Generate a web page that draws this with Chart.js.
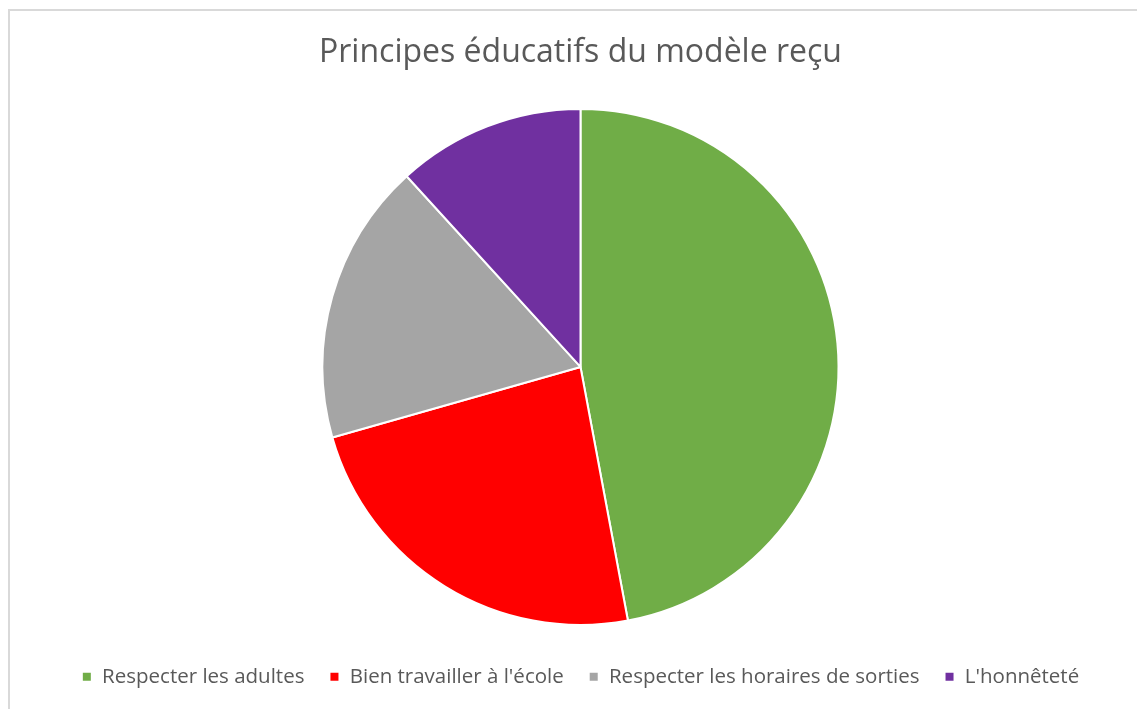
<!DOCTYPE html>
<html lang="fr">
<head>
    <meta charset="UTF-8">
    <title>Principes éducatifs du modèle reçu</title>
    <script src="https://cdn.jsdelivr.net/npm/chart.js"></script>
    <style>
        html, body {
            margin: 0;
            padding: 0;
            background: #ffffff;
            overflow: hidden;
        }

        /* light frame around the chart, only top and left edges are visible */
        .frame {
            position: absolute;
            left: 8px;
            top: 9px;
            width: 1200px;
            height: 800px;
            border: 2px solid #d9d9d9;
        }

        .chart-container {
            position: absolute;
            left: 0;
            top: 0;
            width: 1137px;
            height: 709px;
        }
    </style>
</head>
<body>
    <div class="frame"></div>
    <div class="chart-container">
        <canvas id="pieChart"></canvas>
    </div>

    <script>
        // chart data
        const categories = [
            'Respecter les adultes',
            'Bien travailler à l\'école',
            'Respecter les horaires de sorties',
            'L\'honnêteté'
        ];
        const values = [40, 20, 15, 10];
        const sliceColors = ['#70ad47', '#ff0000', '#a5a5a5', '#7030a0'];

        const textColor = '#595959';
        const fontFamily = '"Open Sans", "Noto Sans", sans-serif';

        new Chart(document.getElementById('pieChart'), {
            type: 'pie',
            data: {
                labels: categories,
                datasets: [{
                    data: values,
                    backgroundColor: sliceColors,
                    borderColor: '#ffffff',
                    borderWidth: 2,
                    hoverOffset: 0
                }]
            },
            options: {
                responsive: true,
                maintainAspectRatio: false,
                animation: false,
                radius: 258,
                layout: {
                    padding: { left: 24, right: 0, top: 0, bottom: 12 }
                },
                plugins: {
                    title: {
                        display: true,
                        text: 'Principes éducatifs du modèle reçu',
                        color: textColor,
                        font: { family: fontFamily, size: 32, weight: 'normal' },
                        padding: { top: 34, bottom: 20 }
                    },
                    legend: {
                        position: 'bottom',
                        labels: {
                            color: textColor,
                            font: { family: fontFamily, size: 20.5 },
                            boxWidth: 10,
                            boxHeight: 10,
                            padding: 25
                        }
                    },
                    tooltip: { enabled: false }
                }
            }
        });
    </script>
</body>
</html>
